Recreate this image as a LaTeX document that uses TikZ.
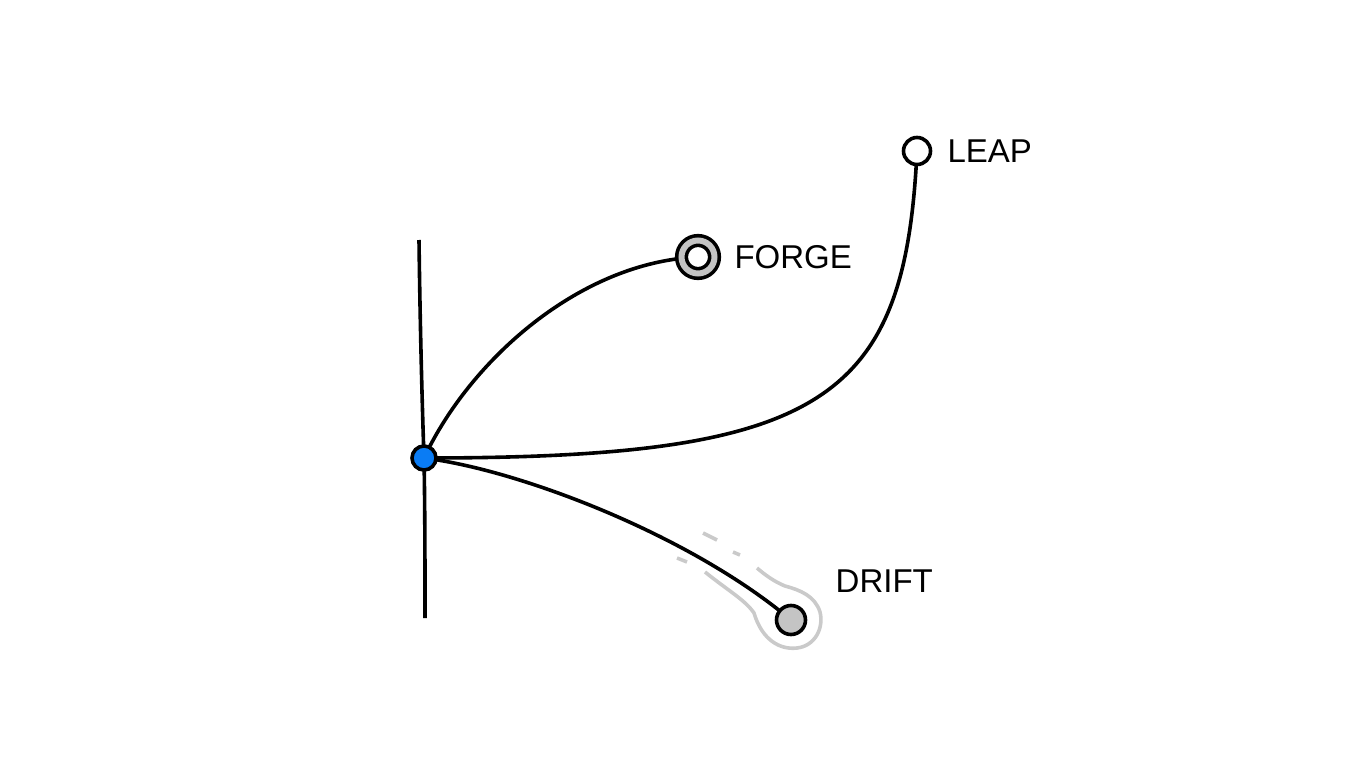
\documentclass[tikz,border=0pt]{standalone}
\usepackage{fontspec}
\setmainfont{Liberation Sans}
\usetikzlibrary{positioning,backgrounds}
\definecolor{dotblue}{HTML}{0A7CF5}
\definecolor{knotgray}{HTML}{C4C4C4}
\definecolor{halogray}{HTML}{CACACA}

\begin{document}
\begin{tikzpicture}[
    x=1pt,
    y=-1pt,
    line cap=round,
    dot/.style={
        circle,
        draw,
        line width=3.6pt,
        inner sep=0pt
    },
    origin/.style={dot, fill=dotblue, minimum size=24pt},
    ringdot/.style={dot, fill=white, double=knotgray, double distance=6pt, minimum size=33pt},
    opendot/.style={dot, fill=white, minimum size=27pt},
    graydot/.style={dot, fill=knotgray, minimum size=29pt},
    lbl/.style={inner sep=0pt, font=\fontsize{33}{38}\selectfont},
    curve/.style={line width=3.6pt},
    halo/.style={draw=halogray, line width=3.6pt}
]
\useasboundingbox (0,0) rectangle (1365,768);

% ============================================================
% PUNKTY
% ============================================================
\node[origin] (start) at (424,458) {};
\node[ringdot] (forge) at (698,257) {};
\node[opendot] (leap) at (917,151) {};
\node[graydot] (drift) at (791,620) {};

\coordinate (axtop) at (419,240);
\coordinate (axbot) at (425,618);

\node[lbl, right=18pt of forge] (forgelbl) {FORGE};
\node[lbl, right=15pt of leap] (leaplbl) {LEAP};
\node[lbl, above right=16pt and 33pt of drift] (driftlbl) {DRIFT};

% ============================================================
% LINIE (pod punktami)
% ============================================================
\begin{pgfonlayer}{background}
\draw[curve] (axtop) .. controls (420,320) and (422,400) .. (start.center)
    .. controls (425,510) and (425,570) .. (axbot);

% smuga za DRIFT
\draw[halo, shift={(drift.center)}] (-86,-48) .. controls (-61,-28) and (-46,-20) .. (-37,-7)
    .. controls (-29,20) and (-11,30) .. (6,28)
    .. controls (24,26) and (33,8) .. (29,-8)
    .. controls (24,-24) and (9,-30) .. (-6,-34)
    .. controls (-16,-38) and (-26,-45) .. (-34,-52);
\draw[halo, shift={(drift.center)}] (-88,-87) -- (-74,-80);
\draw[halo, shift={(drift.center)}] (-58,-68) -- (-51,-65);
\draw[halo, shift={(drift.center)}] (-114,-62) -- (-104,-58);

\draw[curve] (start.center) .. controls (470,360) and (580,262) .. (forge.center);
\draw[curve] (start.center) .. controls (824,458) and (905,401) .. (leap.center);
\draw[curve] (start.center) .. controls (520,470) and (690,535) .. (drift.center);
\end{pgfonlayer}

\end{tikzpicture}
\end{document}
